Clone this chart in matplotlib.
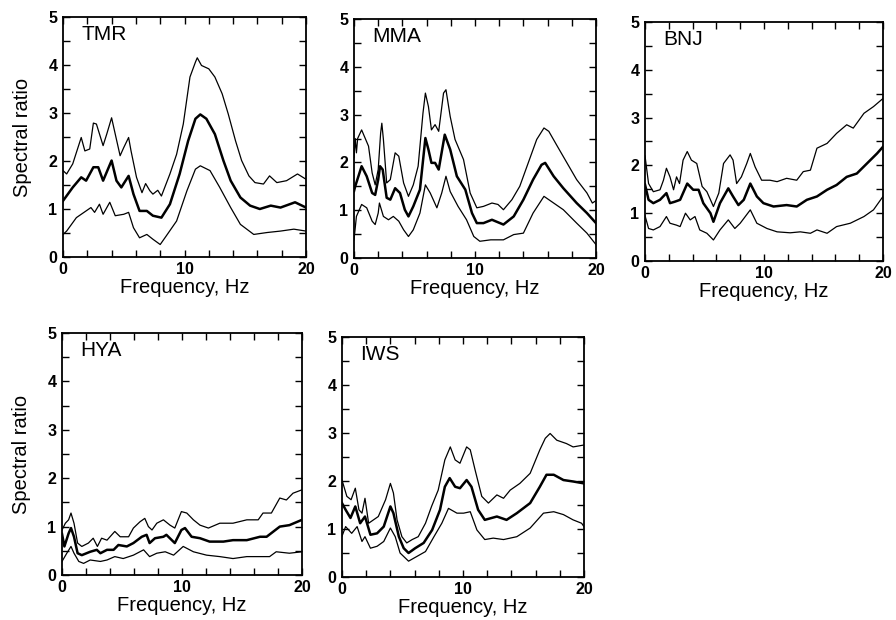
import matplotlib
matplotlib.use("Agg")
import matplotlib.pyplot as plt
from matplotlib.ticker import MultipleLocator

plt.rcParams['font.family'] = ['Liberation Sans', 'DejaVu Sans']

# ---------------- data ----------------
stations = ["TMR", "MMA", "BNJ", "HYA", "IWS"]

# TMR
tmr_up_f = [0, 0.3, 0.8, 1.5, 1.8, 2.2, 2.5, 2.75, 3.3, 3.6, 4.0, 4.3, 4.7, 5.0, 5.4, 5.6, 6.05, 6.5, 6.8, 7.15, 7.4, 7.8, 8.1, 8.8, 9.35, 9.9, 10.45, 10.9, 11.05, 11.4, 12.0, 12.5, 13.1, 13.6, 14.2, 14.7, 15.3, 15.8, 16.5, 17.0, 17.6, 18.4, 19.3, 20]
tmr_up_v = [1.80, 1.73, 1.94, 2.49, 2.21, 2.25, 2.79, 2.77, 2.32, 2.56, 2.90, 2.56, 2.11, 2.28, 2.49, 2.21, 1.66, 1.34, 1.53, 1.38, 1.31, 1.39, 1.27, 1.73, 2.14, 2.77, 3.75, 4.06, 4.15, 3.99, 3.92, 3.75, 3.40, 2.98, 2.42, 2.01, 1.69, 1.55, 1.52, 1.69, 1.55, 1.59, 1.73, 1.62]
tmr_mn_f = [0, 0.8, 1.5, 1.9, 2.5, 2.9, 3.3, 4.0, 4.4, 4.8, 5.4, 5.8, 6.3, 6.9, 7.4, 8.1, 8.8, 9.6, 10.3, 10.9, 11.3, 11.8, 12.5, 13.2, 13.8, 14.6, 15.4, 16.2, 17.1, 17.9, 19.1, 20]
tmr_mn_v = [1.17, 1.45, 1.66, 1.59, 1.87, 1.87, 1.59, 2.01, 1.59, 1.45, 1.69, 1.31, 0.96, 0.96, 0.86, 0.82, 1.10, 1.73, 2.42, 2.88, 2.97, 2.88, 2.56, 2.01, 1.59, 1.24, 1.07, 1.00, 1.07, 1.03, 1.14, 1.03]
tmr_lo_f = [0, 0.3, 1.1, 1.9, 2.3, 2.6, 3.0, 3.3, 3.85, 4.3, 5.0, 5.4, 5.8, 6.3, 6.9, 7.4, 8.0, 8.5, 9.35, 10.2, 10.9, 11.3, 12.1, 12.9, 13.8, 14.6, 15.7, 16.8, 17.9, 19.0, 20]
tmr_lo_v = [0.47, 0.54, 0.82, 0.96, 1.03, 0.93, 1.10, 0.89, 1.14, 0.86, 0.89, 0.93, 0.61, 0.40, 0.47, 0.37, 0.26, 0.44, 0.75, 1.38, 1.83, 1.90, 1.80, 1.45, 1.03, 0.68, 0.47, 0.51, 0.54, 0.58, 0.54]

# MMA
mma_up_f = [0, 0.1, 0.2, 0.3, 0.63, 1.2, 1.5, 1.75, 2.0, 2.2, 2.3, 2.43, 2.7, 3.0, 3.4, 3.7, 4.1, 4.5, 4.9, 5.3, 5.7, 5.9, 6.15, 6.4, 6.7, 7.0, 7.4, 7.6, 7.95, 8.35, 9.05, 9.6, 10.15, 10.7, 11.4, 11.9, 12.35, 13.05, 13.7, 14.4, 15.1, 15.7, 16.1, 16.8, 17.6, 18.4, 19.25, 19.7, 20]
mma_up_v = [2.10, 2.50, 2.20, 2.50, 2.68, 2.34, 1.78, 1.53, 1.85, 2.61, 2.82, 2.48, 1.57, 1.64, 2.20, 2.13, 1.57, 1.29, 1.53, 1.92, 3.03, 3.45, 3.17, 2.68, 2.79, 2.65, 3.45, 3.52, 2.96, 2.48, 2.06, 1.36, 1.05, 1.08, 1.15, 1.12, 1.01, 1.22, 1.50, 1.99, 2.48, 2.72, 2.65, 2.34, 1.99, 1.64, 1.36, 1.15, 1.20]
mma_mn_f = [0, 0.1, 0.63, 1.05, 1.5, 1.75, 2.0, 2.15, 2.37, 2.7, 3.0, 3.4, 3.8, 4.2, 4.5, 4.9, 5.45, 5.9, 6.15, 6.4, 6.7, 7.0, 7.5, 7.95, 8.5, 9.2, 9.75, 10.15, 10.7, 11.4, 12.35, 13.2, 14.0, 14.8, 15.5, 15.8, 16.5, 17.3, 18.4, 19.25, 20]
mma_mn_v = [1.40, 1.50, 1.92, 1.71, 1.36, 1.32, 1.64, 1.92, 1.85, 1.26, 1.22, 1.46, 1.36, 1.01, 0.87, 1.08, 1.43, 2.51, 2.27, 1.99, 1.99, 1.85, 2.58, 2.27, 1.71, 1.43, 0.94, 0.73, 0.73, 0.80, 0.70, 0.87, 1.22, 1.64, 1.95, 1.99, 1.71, 1.46, 1.15, 0.94, 0.73]
mma_lo_f = [0, 0.2, 0.63, 1.05, 1.5, 1.75, 2.0, 2.1, 2.43, 2.85, 3.25, 3.7, 4.1, 4.5, 4.9, 5.45, 5.9, 6.3, 6.85, 7.25, 7.6, 7.95, 8.6, 9.3, 9.9, 10.4, 11.3, 12.35, 13.2, 14.0, 14.8, 15.7, 16.5, 17.3, 18.4, 19.25, 20]
mma_lo_v = [0.38, 0.87, 1.12, 1.05, 0.77, 0.70, 0.94, 1.15, 0.87, 0.80, 0.87, 0.77, 0.59, 0.45, 0.59, 0.94, 1.53, 1.36, 1.05, 1.36, 1.71, 1.39, 1.08, 0.80, 0.45, 0.35, 0.38, 0.38, 0.49, 0.52, 0.94, 1.29, 1.15, 1.01, 0.73, 0.52, 0.28]

# BNJ
bnj_up_f = [0, 0.3, 0.7, 1.26, 1.55, 1.8, 2.1, 2.4, 2.65, 2.9, 3.2, 3.55, 3.9, 4.35, 4.8, 5.2, 5.75, 6.2, 6.6, 7.15, 7.4, 7.7, 8.1, 8.55, 8.85, 9.25, 9.8, 10.5, 11.1, 11.9, 12.75, 13.3, 13.9, 14.45, 15.3, 16.1, 16.95, 17.5, 18.4, 19.2, 20]
bnj_up_v = [2.20, 1.62, 1.45, 1.49, 1.69, 1.94, 1.76, 1.49, 1.76, 1.62, 2.11, 2.29, 2.11, 2.04, 1.56, 1.45, 1.14, 1.42, 2.04, 2.22, 2.11, 1.62, 1.76, 2.04, 2.25, 1.97, 1.69, 1.69, 1.66, 1.73, 1.69, 1.87, 1.90, 2.36, 2.46, 2.67, 2.85, 2.78, 3.09, 3.23, 3.40]
bnj_mn_f = [0, 0.3, 0.7, 1.26, 1.8, 2.1, 2.5, 2.95, 3.55, 4.05, 4.5, 4.9, 5.5, 5.75, 6.3, 7.0, 7.4, 7.85, 8.3, 8.85, 9.4, 9.95, 10.8, 11.9, 12.75, 13.6, 14.45, 15.3, 16.1, 16.95, 17.8, 18.65, 19.5, 20]
bnj_mn_v = [1.60, 1.28, 1.21, 1.28, 1.42, 1.21, 1.24, 1.28, 1.62, 1.49, 1.49, 1.21, 1.00, 0.82, 1.21, 1.52, 1.35, 1.17, 1.28, 1.62, 1.35, 1.21, 1.14, 1.17, 1.14, 1.28, 1.35, 1.49, 1.59, 1.76, 1.83, 2.04, 2.25, 2.39]
bnj_lo_f = [0, 0.3, 0.7, 1.26, 1.8, 2.1, 2.65, 2.95, 3.4, 3.8, 4.2, 4.6, 5.2, 5.75, 6.3, 7.0, 7.55, 8.0, 8.85, 9.4, 10.25, 11.1, 12.2, 13.05, 13.9, 14.45, 15.3, 16.1, 17.25, 18.4, 19.2, 20]
bnj_lo_v = [0.95, 0.68, 0.65, 0.72, 0.93, 0.79, 0.75, 0.72, 1.00, 0.86, 0.93, 0.65, 0.58, 0.44, 0.65, 0.86, 0.68, 0.79, 1.07, 0.79, 0.68, 0.61, 0.59, 0.61, 0.58, 0.65, 0.58, 0.72, 0.79, 0.93, 1.07, 1.35]

# HYA
hya_up_f = [0, 0.28, 0.55, 0.75, 1.0, 1.3, 1.65, 2.2, 2.6, 2.95, 3.3, 3.75, 4.4, 4.85, 5.55, 5.95, 6.5, 6.9, 7.2, 7.5, 7.9, 8.45, 9.0, 9.4, 9.95, 10.4, 10.95, 11.5, 12.2, 13.15, 14.25, 15.4, 16.35, 16.75, 17.45, 18.15, 18.7, 19.25, 20]
hya_up_v = [0.93, 1.07, 1.14, 1.28, 1.07, 0.66, 0.59, 0.66, 0.76, 0.59, 0.76, 0.72, 0.90, 0.79, 0.79, 0.97, 1.10, 1.17, 1.00, 0.93, 1.07, 1.14, 1.03, 0.97, 1.31, 1.28, 1.14, 1.03, 0.97, 1.07, 1.07, 1.14, 1.14, 1.28, 1.28, 1.59, 1.55, 1.69, 1.76]
hya_mn_f = [0, 0.2, 0.55, 0.75, 1.0, 1.3, 1.65, 2.35, 2.9, 3.2, 3.75, 4.3, 4.7, 5.4, 5.95, 6.65, 7.05, 7.3, 7.75, 8.45, 8.7, 9.4, 9.95, 10.25, 10.8, 11.5, 12.3, 13.45, 14.25, 15.4, 16.5, 17.05, 18.15, 18.95, 20]
hya_mn_v = [0.85, 0.59, 0.86, 0.97, 0.79, 0.45, 0.41, 0.48, 0.52, 0.45, 0.52, 0.52, 0.62, 0.59, 0.66, 0.79, 0.83, 0.66, 0.76, 0.79, 0.83, 0.66, 0.93, 0.97, 0.79, 0.76, 0.69, 0.69, 0.72, 0.72, 0.79, 0.79, 1.00, 1.03, 1.14]
hya_lo_f = [0, 0.4, 0.75, 1.0, 1.4, 1.8, 2.35, 3.2, 3.75, 4.4, 5.1, 5.95, 6.8, 7.3, 7.9, 8.6, 9.3, 10.1, 10.95, 12.05, 13.15, 14.25, 15.4, 16.5, 17.3, 17.85, 18.95, 20]
hya_lo_v = [0.28, 0.45, 0.59, 0.45, 0.28, 0.24, 0.31, 0.28, 0.31, 0.38, 0.34, 0.41, 0.52, 0.38, 0.45, 0.48, 0.41, 0.59, 0.48, 0.41, 0.38, 0.34, 0.38, 0.38, 0.38, 0.48, 0.45, 0.48]

# IWS
iws_up_f = [0, 0.4, 0.75, 1.1, 1.4, 1.65, 1.9, 2.2, 2.6, 3.0, 3.6, 4.0, 4.25, 4.55, 4.95, 5.35, 5.8, 6.3, 6.9, 7.4, 7.95, 8.5, 8.95, 9.35, 9.75, 10.3, 10.6, 11.0, 11.55, 12.1, 12.8, 13.35, 13.9, 14.7, 15.55, 16.35, 16.8, 17.2, 17.75, 18.55, 19.1, 20]
iws_up_v = [2.02, 1.68, 1.61, 1.85, 1.40, 1.33, 1.64, 1.12, 1.19, 1.26, 1.61, 1.95, 1.75, 1.19, 0.84, 0.71, 0.78, 0.84, 1.12, 1.47, 1.81, 2.44, 2.71, 2.44, 2.37, 2.71, 2.65, 2.23, 1.68, 1.54, 1.71, 1.64, 1.81, 1.95, 2.16, 2.65, 2.89, 2.99, 2.85, 2.78, 2.71, 2.75]
iws_mn_f = [0, 0.3, 0.7, 1.1, 1.5, 1.9, 2.35, 2.9, 3.45, 4.0, 4.25, 4.7, 5.1, 5.5, 6.05, 6.75, 7.45, 8.1, 8.5, 8.9, 9.35, 9.75, 10.3, 10.7, 11.25, 11.8, 12.8, 13.6, 14.45, 15.55, 16.35, 16.9, 17.5, 18.3, 19.1, 20]
iws_mn_v = [1.54, 1.40, 1.23, 1.47, 1.12, 1.26, 0.88, 0.91, 1.05, 1.47, 1.33, 0.84, 0.60, 0.50, 0.60, 0.71, 0.98, 1.40, 1.88, 2.06, 1.88, 1.85, 2.02, 1.88, 1.40, 1.19, 1.26, 1.19, 1.33, 1.54, 1.88, 2.13, 2.13, 2.02, 1.99, 1.95]
iws_lo_f = [0, 0.3, 0.8, 1.25, 1.65, 1.9, 2.35, 2.9, 3.45, 4.0, 4.4, 4.8, 5.5, 6.2, 6.9, 7.6, 8.25, 8.8, 9.5, 10.05, 10.6, 11.15, 11.8, 12.5, 13.35, 14.45, 15.55, 16.65, 17.5, 18.3, 19.1, 19.8, 20]
iws_lo_v = [0.85, 1.05, 0.91, 1.05, 0.74, 0.84, 0.60, 0.64, 0.74, 1.02, 0.84, 0.50, 0.33, 0.43, 0.53, 0.84, 1.12, 1.43, 1.33, 1.33, 1.36, 0.98, 0.78, 0.81, 0.78, 0.84, 1.02, 1.33, 1.36, 1.30, 1.19, 1.12, 1.05]

curves = {
    "TMR": [(tmr_up_f, tmr_up_v), (tmr_mn_f, tmr_mn_v), (tmr_lo_f, tmr_lo_v)],
    "MMA": [(mma_up_f, mma_up_v), (mma_mn_f, mma_mn_v), (mma_lo_f, mma_lo_v)],
    "BNJ": [(bnj_up_f, bnj_up_v), (bnj_mn_f, bnj_mn_v), (bnj_lo_f, bnj_lo_v)],
    "HYA": [(hya_up_f, hya_up_v), (hya_mn_f, hya_mn_v), (hya_lo_f, hya_lo_v)],
    "IWS": [(iws_up_f, iws_up_v), (iws_mn_f, iws_mn_v), (iws_lo_f, iws_lo_v)],
}

# ---------------- layout ----------------
W, H = 896, 620
fig = plt.figure(figsize=(W / 100, H / 100), dpi=100)
boxes = {  # left, top, right, bottom in pixels
    "TMR": (63, 17, 306, 257),
    "MMA": (354, 19, 596, 258),
    "BNJ": (645, 22, 883, 261),
    "HYA": (62, 333, 302, 575),
    "IWS": (342, 337, 584, 577),
}

for name in stations:
    l, t, r, b = boxes[name]
    ax = fig.add_axes([l / W, 1 - b / H, (r - l) / W, (b - t) / H])
    up, mn, lo = curves[name]
    ax.plot(up[0], up[1], color='black', lw=0.9)
    ax.plot(lo[0], lo[1], color='black', lw=0.9)
    ax.plot(mn[0], mn[1], color='black', lw=1.8)
    ax.set_xlim(0, 20)
    ax.set_ylim(0, 5)
    ax.xaxis.set_major_locator(MultipleLocator(10))
    ax.xaxis.set_minor_locator(MultipleLocator(2))
    ax.yaxis.set_major_locator(MultipleLocator(1))
    ax.yaxis.set_minor_locator(MultipleLocator(0.5))
    ax.tick_params(which='both', direction='in', top=True, right=True,
                   length=5, width=1.0)
    ax.tick_params(which='major', labelsize=11.5)
    ax.tick_params(axis='x', which='major', pad=3.5)
    ax.tick_params(axis='y', which='major', pad=4)
    for lab in ax.get_xticklabels() + ax.get_yticklabels():
        lab.set_fontweight('bold')
    for sp in ax.spines.values():
        sp.set_linewidth(1.3)
    ax.set_xlabel("Frequency, Hz", fontsize=14.5, labelpad=1)
    if name in ("TMR", "HYA"):
        ax.set_ylabel("Spectral ratio", fontsize=14.5, labelpad=12)
    ax.text(0.075, 0.965, name, transform=ax.transAxes, fontsize=15,
            ha='left', va='top')

fig.savefig("out.png", dpi=100)
